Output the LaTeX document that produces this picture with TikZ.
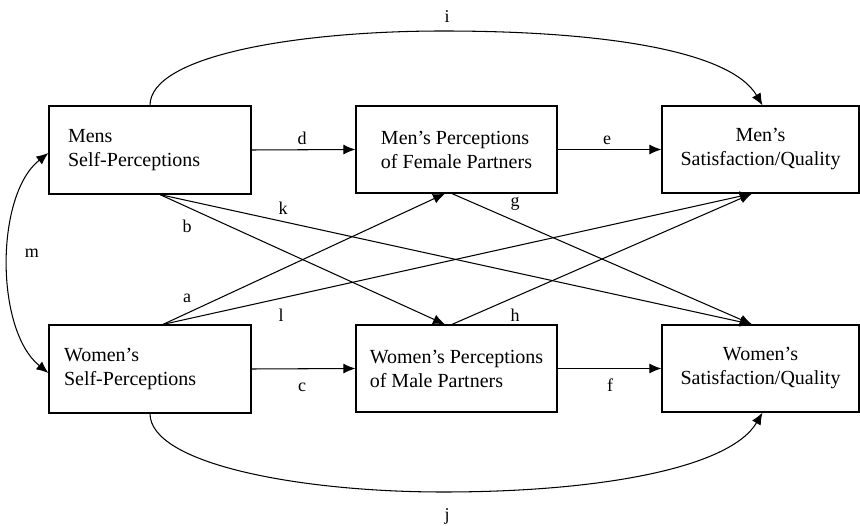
\documentclass[tikz,border=0pt]{standalone}
\usepackage{fontspec}
\setmainfont{Liberation Serif}
\usetikzlibrary{arrows.meta}
\begin{document}
\begin{tikzpicture}[x=1pt,y=-1pt,
  box/.style={draw,line width=1.2pt,minimum height=87pt,inner sep=0pt,font=\fontsize{20}{24}\selectfont},
  conn/.style={line width=1.05pt,-{Latex[length=12pt,width=10pt]}},
  lbl/.style={font=\fontsize{18}{20}\selectfont,anchor=base,inner sep=0pt}]
\useasboundingbox (0,0) rectangle (860,526);
% boxes
\node[box,minimum width=202pt,minimum height=88pt,text width=164pt,align=left,inner xsep=19pt] (ms) at (150,150) {Mens\\Self-Perceptions};
\node[box,minimum width=202pt,minimum height=88pt,text width=172pt,align=left,inner xsep=15pt] (ws) at (150,369) {Women’s\\Self-Perceptions};
\node[box,minimum width=201pt,align=left] (mp) at (456.5,149.5) {Men’s Perceptions\\of Female Partners};
\node[box,minimum width=201pt,align=left] (wp) at (456.5,368.5) {Women’s Perceptions\\of Male Partners};
\node[box,minimum width=197pt,align=center] (msat) at (760.5,149.5) {Men’s\\Satisfaction/Quality};
\node[box,minimum width=197pt,align=center] (wsat) at (760.5,368.5) {Women’s\\Satisfaction/Quality};
% helper coordinates
\coordinate (itop) at (443,31);
\coordinate (jbot) at (443,492);
% horizontal paths
\draw[conn] (ms.east) -- (mp.west);
\draw[conn] (mp.east) -- (msat.west);
\draw[conn] (ws.east) -- (wp.west);
\draw[conn] (wp.east) -- (wsat.west);
% cross paths
\draw[conn] ([xshift=10pt]ms.south) -- ([xshift=-11.5pt]wp.north);
\draw[conn] ([xshift=10pt]ms.south) -- ([xshift=-8.5pt]wsat.north);
\draw[conn] ([xshift=13pt]ws.north) -- ([xshift=-11.5pt]mp.south);
\draw[conn] ([xshift=13pt]ws.north) -- ([xshift=-8.5pt]msat.south);
\draw[conn] ([xshift=-4.5pt]mp.south) -- ([xshift=-8.5pt]wsat.north);
\draw[conn] ([xshift=-4.5pt]wp.north) -- ([xshift=-8.5pt]msat.south);
% curved paths
\draw[conn] (ms.north) .. controls (150,55) and (300,31) .. (itop) .. controls (600,31) and (730,50) .. ([xshift=2pt]msat.north);
\draw[conn] (ws.south) .. controls (150,464) and (300,492) .. (jbot) .. controls (600,492) and (730,468) .. ([xshift=2pt]wsat.south);
\draw[line width=1.05pt,{Latex[length=12pt,width=10pt]}-{Latex[length=12pt,width=10pt]}] ([yshift=-3pt]ms.west) .. controls (-5,195) and (-5,330) .. ([yshift=-4pt]ws.west);
% labels
\node[lbl] (li) at (447,23) {i};
\node[lbl] (lj) at (447,521) {j};
\node[lbl] (lm) at (32,258) {m};
\node[lbl] (lb) at (187,233) {b};
\node[lbl] (lk) at (283,215) {k};
\node[lbl] (la) at (187,303) {a};
\node[lbl] (ll) at (281,322) {l};
\node[lbl] (lg) at (515,207) {g};
\node[lbl] (lh) at (515,322) {h};
\node[lbl] (ld) at (302,145) {d};
\node[lbl] (le) at (607,145) {e};
\node[lbl] (lc) at (302,392) {c};
\node[lbl] (lf) at (610,392) {f};
\end{tikzpicture}
\end{document}
